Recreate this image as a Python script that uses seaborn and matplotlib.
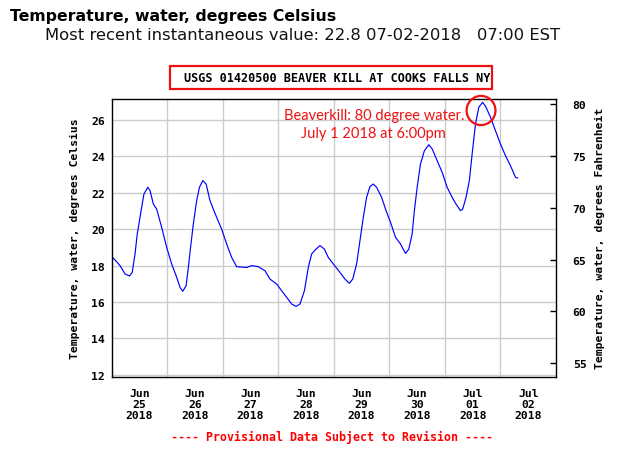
import matplotlib
matplotlib.use("Agg")
import matplotlib.pyplot as plt
from matplotlib.patches import Ellipse, Rectangle
import seaborn as sns

# ---- data (days since Jun 25 2018 00:00 EST, water temperature in deg C) ----
days = [0.00, 0.15, 0.24, 0.32, 0.37, 0.42, 0.46, 0.52, 0.58, 0.65, 0.69, 0.75, 0.81, 0.90,
        0.99, 1.08, 1.17, 1.23, 1.28, 1.34, 1.38, 1.42, 1.47, 1.53, 1.58, 1.64, 1.70, 1.77,
        1.83, 1.89, 1.98, 2.07, 2.16, 2.25, 2.43, 2.52, 2.64, 2.76, 2.85, 2.97, 3.06, 3.15,
        3.24, 3.32, 3.39, 3.47, 3.54, 3.60, 3.68, 3.75, 3.83, 3.90, 3.99, 4.11, 4.20, 4.28,
        4.34, 4.41, 4.47, 4.53, 4.59, 4.65, 4.71, 4.77, 4.86, 4.94, 5.02, 5.11, 5.20, 5.29,
        5.35, 5.41, 5.45, 5.50, 5.56, 5.63, 5.71, 5.77, 5.86, 5.95, 6.04, 6.13, 6.20, 6.28,
        6.32, 6.38, 6.44, 6.49, 6.55, 6.61, 6.68, 6.74, 6.82, 6.91, 7.00, 7.09, 7.18, 7.27,
        7.31]
temps = [18.51, 18.00, 17.54, 17.43, 17.63, 18.64, 19.74, 20.84, 21.93, 22.30, 22.12, 21.38,
         21.10, 20.10, 19.00, 18.09, 17.36, 16.81, 16.59, 16.90, 17.90, 19.00, 20.29, 21.57,
         22.30, 22.67, 22.48, 21.57, 21.10, 20.65, 20.00, 19.19, 18.45, 17.94, 17.90, 18.00,
         17.94, 17.72, 17.26, 16.99, 16.62, 16.26, 15.89, 15.76, 15.89, 16.62, 17.90, 18.64,
         18.91, 19.10, 18.91, 18.45, 18.09, 17.63, 17.26, 17.03, 17.26, 18.09, 19.37, 20.65,
         21.75, 22.34, 22.48, 22.30, 21.75, 21.02, 20.38, 19.55, 19.19, 18.67, 18.91, 19.74,
         21.02, 22.30, 23.58, 24.31, 24.64, 24.41, 23.77, 23.12, 22.30, 21.75, 21.38, 21.02,
         21.10, 21.75, 22.67, 24.13, 25.78, 26.70, 26.97, 26.70, 26.15, 25.41, 24.68, 24.04,
         23.49, 22.85, 22.81]

x_tick_labels = ["Jun\n25\n2018", "Jun\n26\n2018", "Jun\n27\n2018", "Jun\n28\n2018",
                 "Jun\n29\n2018", "Jun\n30\n2018", "Jul\n01\n2018", "Jul\n02\n2018"]
c_ticks = [12, 14, 16, 18, 20, 22, 24, 26]
f_ticks = [55, 60, 65, 70, 75, 80]

title = "Temperature, water, degrees Celsius"
subtitle = "Most recent instantaneous value: 22.8 07-02-2018   07:00 EST"
station = "USGS 01420500 BEAVER KILL AT COOKS FALLS NY"
note = "Beaverkill: 80 degree water.\nJuly 1 2018 at 6:00pm"
footer = "---- Provisional Data Subject to Revision ----"

sns.set_style("white")
plt.rcParams["font.family"] = ["DejaVu Sans"]
plt.rcParams["text.color"] = "black"
plt.rcParams["axes.labelcolor"] = "black"
plt.rcParams["xtick.color"] = "black"
plt.rcParams["ytick.color"] = "black"

W, H = 620, 452
fig = plt.figure(figsize=(W / 100, H / 100), dpi=100)
ax = fig.add_axes([111.7 / W, 1 - 377.7 / H, 444.3 / W, 277.7 / H])

sns.lineplot(x=days, y=temps, ax=ax, color="#0000ff", linewidth=0.85)

ax.set_xlim(0, 8)
ax.set_ylim(11.9, 27.15)
ax.set_yticks(c_ticks)
ax.set_xticks([i + 0.5 for i in range(len(x_tick_labels))])
ax.set_xticks(list(range(1, 8)), minor=True)
mono = dict(family="DejaVu Sans Mono", weight="bold", size=8.2, color="black")
ax.set_xticklabels(x_tick_labels, fontdict=mono, linespacing=1.15)
ax.set_yticklabels([str(t) for t in c_ticks], fontdict=mono)
ax.tick_params(axis="x", which="both", length=0, pad=8)
ax.tick_params(axis="y", length=0, pad=5)
ax.grid(False)
ax.grid(True, axis="x", which="minor", color="#cccccc", linewidth=1)
ax.grid(True, axis="y", which="major", color="#cccccc", linewidth=1)
for s in ax.spines.values():
    s.set_visible(True)
    s.set_color("black")
    s.set_linewidth(1)
ax.set_ylabel("Temperature, water, degrees Celsius", fontdict=mono, labelpad=8)
ax.set_xlabel("")

ax2 = ax.twinx()
ax2.set_ylim(53.7, 80.48)
ax2.set_yticks(f_ticks)
ax2.set_yticklabels([str(t) for t in f_ticks], fontdict=mono)
ax2.tick_params(axis="y", direction="in", length=4, width=1, pad=12, color="black")
ax2.grid(False)
for s in ax2.spines.values():
    s.set_visible(False)
ax2.set_ylabel("Temperature, water, degrees Fahrenheit", fontdict=mono, labelpad=6)

# annotation
imax = max(range(len(temps)), key=lambda i: temps[i])
ell = Ellipse((days[imax] - 0.03, temps[imax] - 0.45), width=0.52, height=1.6,
              fill=False, edgecolor="#ee1111", linewidth=1.6, clip_on=False, zorder=5)
ax.add_patch(ell)
ax.text(0.590, 0.910, note, transform=ax.transAxes, ha="center", va="center",
        color="#ee1111", fontsize=10.5, family="Lato", linespacing=1.3)

# header texts
fig.text(10 / W, 1 - 9 / H, title, ha="left", va="top", fontsize=11.35,
         weight="bold", family="DejaVu Sans", color="black")
fig.text(45 / W, 1 - 28 / H, subtitle, ha="left", va="top", fontsize=11.8,
         family="DejaVu Sans", color="#111111")
fig.patches.append(Rectangle((170 / W, 1 - 90 / H), 322 / W, 23 / H,
                             transform=fig.transFigure, fill=False,
                             edgecolor="#ee1111", linewidth=1.6))
fig.text(337 / W, 1 - 79 / H, station, ha="center", va="center", fontsize=8.5,
         family="DejaVu Sans Mono", weight="bold", color="black")
fig.text(332 / W, 1 - 437 / H, footer, ha="center", va="center", color="#ff0000",
         fontsize=8.4, family="DejaVu Sans Mono", weight="bold")

fig.savefig("out.png", dpi=100)
